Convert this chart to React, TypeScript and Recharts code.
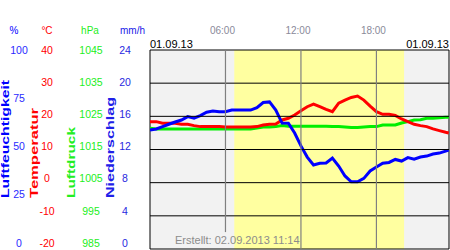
import { LineChart, Line, XAxis, YAxis, ReferenceArea, ReferenceLine } from 'recharts';

// half-hourly readings for 01.09.13
const HOURS = [
  0, 0.5, 1, 1.5, 2, 2.5, 3, 3.5, 4, 4.5, 5, 5.5, 6, 6.5, 7, 7.5, 8, 8.5, 9, 9.5, 10, 10.5, 11, 11.5,
  12, 12.5, 13, 13.5, 14, 14.5, 15, 15.5, 16, 16.5, 17, 17.5, 18, 18.5, 19, 19.5, 20, 20.5, 21, 21.5,
  22, 22.5, 23, 23.5, 23.75,
];
const HUMIDITY = [
  59.8, 60.3, 61.5, 62.7, 63.8, 64.8, 66.5, 65.7, 67, 68.7, 69.3, 69, 69, 69.8, 69.8, 69.8, 69.8, 71,
  73.6, 73.9, 69.8, 63.3, 63.2, 58.3, 51.8, 46.2, 42.2, 43.1, 43.2, 45.7, 41.7, 36.7, 33.8, 33.8, 35.5,
  39.2, 41.2, 43.1, 43.5, 45, 44.2, 45.9, 45.1, 46.2, 46.7, 47.7, 48.2, 49.2, 49.7,
];
const TEMPERATURE = [
  18.4, 18.4, 17.9, 17.9, 17.9, 17.6, 17.6, 17.2, 16.9, 16.9, 16.9, 16.9, 16.8, 16.8, 16.8, 16.8, 16.8,
  16.9, 17.4, 17.6, 17.7, 18.9, 19.4, 20.4, 21.7, 22.9, 23.7, 22.9, 22.1, 21.4, 24.0, 24.9, 25.7, 26.1,
  24.9, 23.1, 21.4, 20.6, 20.6, 20.3, 19.2, 18.4, 17.6, 17.2, 16.9, 16.2, 15.7, 15.2, 15,
];
const PRESSURE = [
  1021.4, 1021.2, 1021.2, 1021.2, 1021.2, 1021.2, 1021.2, 1021.2, 1021.2, 1021.2, 1021.2, 1021.2,
  1021.2, 1021.2, 1021.2, 1021.2, 1021.2, 1021.5, 1021.8, 1021.8, 1021.9, 1022.2, 1022, 1022, 1022,
  1022, 1022, 1022, 1022, 1021.9, 1021.9, 1021.8, 1021.6, 1021.6, 1021.8, 1021.9, 1021.9, 1022.4,
  1022.4, 1022.4, 1023, 1023.4, 1023.9, 1024, 1024.4, 1024.4, 1024.6, 1024.7, 1024.7,
];

const HUM_TICKS = [0, 25, 50, 75, 100];
const TEMP_TICKS = [-20, -10, 0, 10, 20, 30, 40];
const HPA_TICKS = [985, 995, 1005, 1015, 1025, 1035, 1045];
const RAIN_TICKS = [0, 4, 8, 12, 16, 20, 24];
const GRID_HPA = [995, 1005, 1015, 1025, 1035];
const TIME_TICKS = [6, 12, 18];
const DAY_START = 0;
const DAY_END = 23.77;
const SUNRISE = 6.7;
const SUNSET = 20.2;
const DATE_LABEL = '01.09.13';
const CREATED = 'Erstellt: 02.09.2013 11:14';

const data = HOURS.map((t, i) => ({
  t,
  hum: HUMIDITY[i],
  temp: TEMPERATURE[i],
  hpa: PRESSURE[i],
}));

const FONT = '"Liberation Sans", Arial, sans-serif';
const TOP = 50;
const BLUE = '#0000ff';
const RED = '#ff0000';
const GREEN = '#00ee00';

const yTick = (cx: number, color: string) => (props: any) => {
  const { y, payload } = props;
  // labels in the original sit slightly compressed towards the top
  const ty = TOP + (y - TOP) * 0.97;
  return (
    <text x={cx} y={ty} dy="0.35em" textAnchor="middle" fill={color} fontSize={10.5} fontFamily={FONT}>
      {payload.value}
    </text>
  );
};

const axisTitle =
  (unit: string, unitX: number, title: string, titleX: number, titleY: number, len: number, color: string) =>
  () => (
    <g>
      <text x={unitX} y={34} textAnchor="middle" fill={color} fontSize={10} fontFamily={FONT}>
        {unit}
      </text>
      <text
        x={titleX}
        y={titleY}
        transform={`rotate(-90, ${titleX}, ${titleY})`}
        textAnchor="middle"
        fill={color}
        fontSize={10.5}
        fontWeight="bold"
        fontFamily={FONT}
        textLength={len}
        lengthAdjust="spacingAndGlyphs"
      >
        {title}
      </text>
    </g>
  );

const timeTick = (props: any) => {
  const { x, payload } = props;
  return (
    <text x={x - 3} y={34} textAnchor="middle" fill="#8a8a9a" fontSize={10} fontFamily={FONT}>
      {`${String(payload.value).padStart(2, '0')}:00`}
    </text>
  );
};

const header = () => (
  <g fontFamily={FONT} fontSize={11} fill="#000">
    <text x={150} y={47.5} textAnchor="start">
      {DATE_LABEL}
    </text>
    <text x={449} y={47.5} textAnchor="end">
      {DATE_LABEL}
    </text>
  </g>
);

const footer = () => (
  <text x={175} y={244} fill="#8c8c8c" fontSize={11} fontFamily={FONT}>
    {CREATED}
  </text>
);

export default function App() {
  return (
    <div style={{ position: 'absolute', left: 0, top: 0, width: 450, height: 250, background: '#fff' }}>
      <LineChart width={450} height={250} data={data} margin={{ top: 20, right: 1, bottom: 1, left: 0 }}>
        <XAxis
          xAxisId="t"
          type="number"
          dataKey="t"
          domain={[DAY_START, DAY_END]}
          ticks={TIME_TICKS}
          orientation="top"
          height={30}
          tickLine={false}
          axisLine={false}
          tick={timeTick}
          label={header}
          allowDataOverflow
        />
        <YAxis
          yAxisId="rain"
          type="number"
          domain={[0, 24]}
          ticks={RAIN_TICKS}
          interval={0}
          allowDataOverflow
          width={45}
          tickLine={false}
          axisLine={false}
          tick={yTick(125, '#2828e0')}
          label={axisTitle('mm/h', 132.5, 'Niederschlag', 114, 147.5, 101, '#2020e8')}
        />
        <YAxis
          yAxisId="hpa"
          domain={[985, 1045]}
          ticks={HPA_TICKS}
          interval={0}
          allowDataOverflow
          width={45}
          tickLine={false}
          axisLine={false}
          tick={yTick(91, '#22ee22')}
          label={axisTitle('hPa', 90, 'Luftdruck', 74.5, 162.5, 71, '#22ee22')}
        />
        <YAxis
          yAxisId="temp"
          domain={[-20, 40]}
          ticks={TEMP_TICKS}
          interval={0}
          allowDataOverflow
          width={30}
          tickLine={false}
          axisLine={false}
          tick={yTick(47, RED)}
          label={axisTitle('°C', 47, 'Temperatur', 37.5, 153, 90, RED)}
        />
        <YAxis
          yAxisId="hum"
          domain={[0, 100]}
          ticks={HUM_TICKS}
          interval={0}
          allowDataOverflow
          width={30}
          tickLine={false}
          axisLine={false}
          tick={yTick(19, '#2a2aff')}
          label={axisTitle('%', 14, 'Luftfeuchtigkeit', 8.5, 139, 118, BLUE)}
        />

        <ReferenceArea xAxisId="t" yAxisId="hum" x1={DAY_START} x2={DAY_END} y1={0} y2={100} fill="#f2f2f2" fillOpacity={1} stroke="none" />
        <ReferenceArea xAxisId="t" yAxisId="hum" x1={SUNRISE} x2={SUNSET} y1={0} y2={100} fill="#ffffa0" fillOpacity={1} stroke="none" />

        <Line xAxisId="t" yAxisId="hpa" dataKey="hpa" stroke={GREEN} strokeWidth={3} dot={false} isAnimationActive={false} />
        <Line xAxisId="t" yAxisId="temp" dataKey="temp" stroke={RED} strokeWidth={3} dot={false} isAnimationActive={false} />
        <Line xAxisId="t" yAxisId="hum" dataKey="hum" stroke={BLUE} strokeWidth={3} dot={false} isAnimationActive={false} />

        {GRID_HPA.map((v) => (
          <ReferenceLine key={v} xAxisId="t" yAxisId="hpa" y={v} stroke="#000" strokeWidth={1} />
        ))}
        <ReferenceLine
          xAxisId="t"
          yAxisId="hum"
          segment={[
            { x: TIME_TICKS[0], y: 8.5 },
            { x: TIME_TICKS[0], y: 100 },
          ]}
          stroke="#808080"
          strokeWidth={1.2}
        />
        {TIME_TICKS.slice(1).map((v) => (
          <ReferenceLine key={v} xAxisId="t" yAxisId="hum" x={v} stroke="#808080" strokeWidth={1.2} />
        ))}
        <ReferenceArea
          xAxisId="t"
          yAxisId="hum"
          x1={DAY_START}
          x2={DAY_END}
          y1={0}
          y2={100}
          fill="none"
          stroke="#000"
          strokeWidth={1}
          label={footer}
        />
      </LineChart>
    </div>
  );
}
